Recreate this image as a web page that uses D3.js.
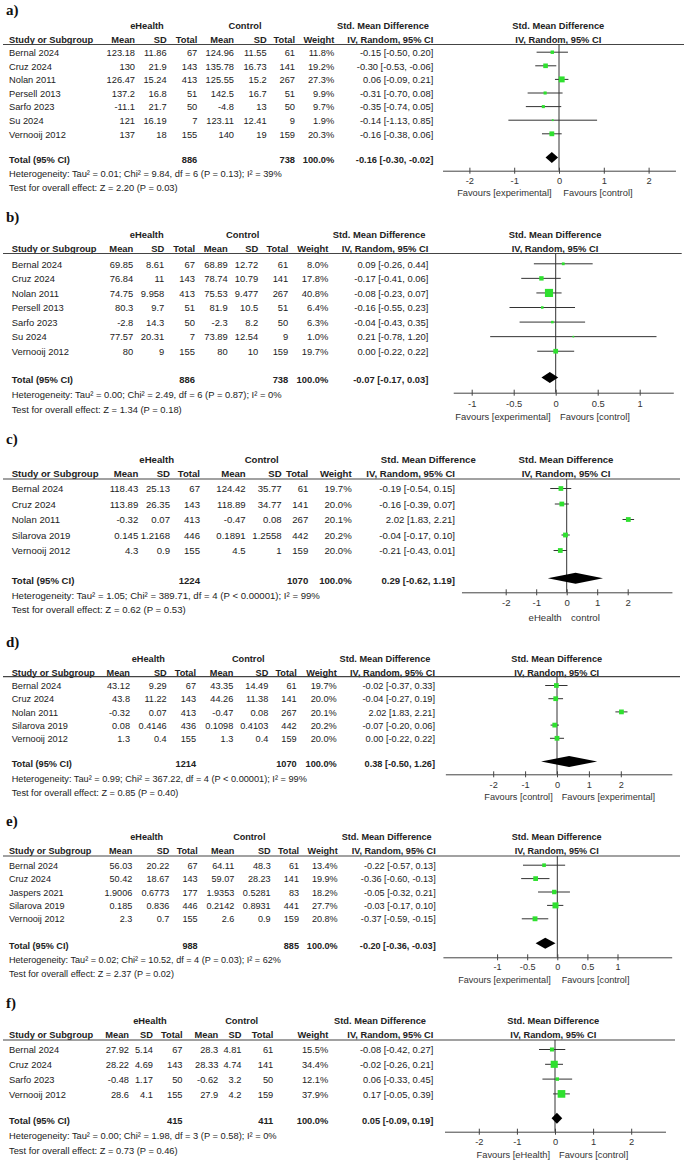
<!DOCTYPE html>
<html>
<head>
<meta charset="utf-8">
<script src="https://cdn.jsdelivr.net/npm/d3@7"></script>
<style>
body{margin:0;background:#fff;}
svg{display:block;font-family:"Liberation Sans",Arial,sans-serif;}
</style>
</head>
<body>
<div id="chart"></div>
<script>

// ---- a) ----
var studiesA = ["Bernal 2024", "Cruz 2024", "Nolan 2011", "Persell 2013", "Sarfo 2023", "Su 2024", "Vernooij 2012"];
var eHealthA = [[123.18, 11.86, 67], [130, 21.9, 143], [126.47, 15.24, 413], [137.2, 16.8, 51], [-11.1, 21.7, 50], [121, 16.19, 7], [137, 18, 155]];
var controlA = [[124.96, 11.55, 61], [135.78, 16.73, 141], [125.55, 15.2, 267], [142.5, 16.7, 51], [-4.8, 13, 50], [123.11, 12.41, 9], [140, 19, 159]];
var weightA = [11.8, 19.2, 27.3, 9.9, 9.7, 1.9, 20.3];
var smdA = [-0.15, -0.30, 0.06, -0.31, -0.35, -0.14, -0.16];
var ciA = [[-0.50, 0.20], [-0.53, -0.06], [-0.09, 0.21], [-0.70, 0.08], [-0.74, 0.05], [-1.13, 0.85], [-0.38, 0.06]];
var totalA = [886, 738, -0.16, -0.30, -0.02];
var hetA = "Heterogeneity: Tau² = 0.01; Chi² = 9.84, df = 6 (P = 0.13); I² = 39%";
var testA = "Test for overall effect: Z = 2.20 (P = 0.03)";
var ticksA = [-2, -1, 0, 1, 2];
var favA = ["Favours [experimental]", "Favours [control]"];

// ---- b) ----
var studiesB = ["Bernal 2024", "Cruz 2024", "Nolan 2011", "Persell 2013", "Sarfo 2023", "Su 2024", "Vernooij 2012"];
var eHealthB = [[69.85, 8.61, 67], [76.84, 11, 143], [74.75, 9.958, 413], [80.3, 9.7, 51], [-2.8, 14.3, 50], [77.57, 20.31, 7], [80, 9, 155]];
var controlB = [[68.89, 12.72, 61], [78.74, 10.79, 141], [75.53, 9.477, 267], [81.9, 10.5, 51], [-2.3, 8.2, 50], [73.89, 12.54, 9], [80, 10, 159]];
var weightB = [8.0, 17.8, 40.8, 6.4, 6.3, 1.0, 19.7];
var smdB = [0.09, -0.17, -0.08, -0.16, -0.04, 0.21, 0.00];
var ciB = [[-0.26, 0.44], [-0.41, 0.06], [-0.23, 0.07], [-0.55, 0.23], [-0.43, 0.35], [-0.78, 1.20], [-0.22, 0.22]];
var totalB = [886, 738, -0.07, -0.17, 0.03];
var hetB = "Heterogeneity: Tau² = 0.00; Chi² = 2.49, df = 6 (P = 0.87); I² = 0%";
var testB = "Test for overall effect: Z = 1.34 (P = 0.18)";
var ticksB = [-1, -0.5, 0, 0.5, 1];
var favB = ["Favours [experimental]", "Favours [control]"];

// ---- c) ----
var studiesC = ["Bernal 2024", "Cruz 2024", "Nolan 2011", "Silarova 2019", "Vernooij 2012"];
var eHealthC = [[118.43, 25.13, 67], [113.89, 26.35, 143], [-0.32, 0.07, 413], [0.145, 1.2168, 446], [4.3, 0.9, 155]];
var controlC = [[124.42, 35.77, 61], [118.89, 34.77, 141], [-0.47, 0.08, 267], [0.1891, 1.2558, 442], [4.5, 1, 159]];
var weightC = [19.7, 20.0, 20.1, 20.2, 20.0];
var smdC = [-0.19, -0.16, 2.02, -0.04, -0.21];
var ciC = [[-0.54, 0.15], [-0.39, 0.07], [1.83, 2.21], [-0.17, 0.10], [-0.43, 0.01]];
var totalC = [1224, 1070, 0.29, -0.62, 1.19];
var hetC = "Heterogeneity: Tau² = 1.05; Chi² = 389.71, df = 4 (P < 0.00001); I² = 99%";
var testC = "Test for overall effect: Z = 0.62 (P = 0.53)";
var ticksC = [-2, -1, 0, 1, 2];
var favC = ["eHealth", "control"];

// ---- d) ----
var studiesD = ["Bernal 2024", "Cruz 2024", "Nolan 2011", "Silarova 2019", "Vernooij 2012"];
var eHealthD = [[43.12, 9.29, 67], [43.8, 11.22, 143], [-0.32, 0.07, 413], [0.08, 0.4146, 436], [1.3, 0.4, 155]];
var controlD = [[43.35, 14.49, 61], [44.26, 11.38, 141], [-0.47, 0.08, 267], [0.1098, 0.4103, 442], [1.3, 0.4, 159]];
var weightD = [19.7, 20.0, 20.1, 20.2, 20.0];
var smdD = [-0.02, -0.04, 2.02, -0.07, 0.00];
var ciD = [[-0.37, 0.33], [-0.27, 0.19], [1.83, 2.21], [-0.20, 0.06], [-0.22, 0.22]];
var totalD = [1214, 1070, 0.38, -0.50, 1.26];
var hetD = "Heterogeneity: Tau² = 0.99; Chi² = 367.22, df = 4 (P < 0.00001); I² = 99%";
var testD = "Test for overall effect: Z = 0.85 (P = 0.40)";
var ticksD = [-2, -1, 0, 1, 2];
var favD = ["Favours [control]", "Favours [experimental]"];

// ---- e) ----
var studiesE = ["Bernal 2024", "Cruz 2024", "Jaspers 2021", "Silarova 2019", "Vernooij 2012"];
var eHealthE = [[56.03, 20.22, 67], [50.42, 18.67, 143], [1.9006, 0.6773, 177], [0.185, 0.836, 446], [2.3, 0.7, 155]];
var controlE = [[64.11, 48.3, 61], [59.07, 28.23, 141], [1.9353, 0.5281, 83], [0.2142, 0.8931, 441], [2.6, 0.9, 159]];
var weightE = [13.4, 19.9, 18.2, 27.7, 20.8];
var smdE = [-0.22, -0.36, -0.05, -0.03, -0.37];
var ciE = [[-0.57, 0.13], [-0.60, -0.13], [-0.32, 0.21], [-0.17, 0.10], [-0.59, -0.15]];
var totalE = [988, 885, -0.20, -0.36, -0.03];
var hetE = "Heterogeneity: Tau² = 0.02; Chi² = 10.52, df = 4 (P = 0.03); I² = 62%";
var testE = "Test for overall effect: Z = 2.37 (P = 0.02)";
var ticksE = [-1, -0.5, 0, 0.5, 1];
var favE = ["Favours [experimental]", "Favours [control]"];

// ---- f) ----
var studiesF = ["Bernal 2024", "Cruz 2024", "Sarfo 2023", "Vernooij 2012"];
var eHealthF = [[27.92, 5.14, 67], [28.22, 4.69, 143], [-0.48, 1.17, 50], [28.6, 4.1, 155]];
var controlF = [[28.3, 4.81, 61], [28.33, 4.74, 141], [-0.62, 3.2, 50], [27.9, 4.2, 159]];
var weightF = [15.5, 34.4, 12.1, 37.9];
var smdF = [-0.08, -0.02, 0.06, 0.17];
var ciF = [[-0.42, 0.27], [-0.26, 0.21], [-0.33, 0.45], [-0.05, 0.39]];
var totalF = [415, 411, 0.05, -0.09, 0.19];
var hetF = "Heterogeneity: Tau² = 0.00; Chi² = 1.98, df = 3 (P = 0.58); I² = 0%";
var testF = "Test for overall effect: Z = 0.73 (P = 0.46)";
var ticksF = [-2, -1, 0, 1, 2];
var favF = ["Favours [eHealth]", "Favours [control]"];

var panels = [
	{label: "a)", studies: studiesA, e: eHealthA, c: controlA, w: weightA, smd: smdA, ci: ciA, total: totalA, het: hetA, test: testA, ticks: ticksA, fav: favA},
	{label: "b)", studies: studiesB, e: eHealthB, c: controlB, w: weightB, smd: smdB, ci: ciB, total: totalB, het: hetB, test: testB, ticks: ticksB, fav: favB},
	{label: "c)", studies: studiesC, e: eHealthC, c: controlC, w: weightC, smd: smdC, ci: ciC, total: totalC, het: hetC, test: testC, ticks: ticksC, fav: favC},
	{label: "d)", studies: studiesD, e: eHealthD, c: controlD, w: weightD, smd: smdD, ci: ciD, total: totalD, het: hetD, test: testD, ticks: ticksD, fav: favD},
	{label: "e)", studies: studiesE, e: eHealthE, c: controlE, w: weightE, smd: smdE, ci: ciE, total: totalE, het: hetE, test: testE, ticks: ticksE, fav: favE},
	{label: "f)", studies: studiesF, e: eHealthF, c: controlF, w: weightF, smd: smdF, ci: ciF, total: totalF, het: hetF, test: testF, ticks: ticksF, fav: favF}
];

// layout of each panel (pixel positions)
var layouts = [
	{font: 9.3, labelY: 9.5, grpY: 26, colY: 40, lineY: 44.5, row0: 52.7, step: 13.6, totalY: 160, hetY: 173.7, testY: 187.5,
	 nameX: 9, cols: [135, 166.7, 197.3, 234, 266.7, 295, 334.3, 433.3], grp: [147, 245, 383],
	 x0: 559, ppu: 44.8, range: [-2.6, 2.6], headX: 558.3, axisY: 170.7, tickY: 181, favY: 192.7, lineEnd: 684, favL: 551.7, favR: 563.3},
	{font: 9.4, labelY: 216.7, grpY: 234.3, colY: 249, lineY: 253.5, row0: 264.3, step: 14.57, totalY: 380, hetY: 395, testY: 409.3,
	 nameX: 11.7, cols: [133.3, 164.3, 195, 227.7, 258.3, 288.3, 328.3, 428.3], grp: [146.7, 242.7, 379],
	 x0: 555.7, ppu: 84, range: [-1.22, 1.4], headX: 555, axisY: 392.7, tickY: 403.3, favY: 416.7, lineEnd: 681.7, favL: 550.7, favR: 560},
	{font: 9.6, labelY: 438.3, grpY: 459.3, colY: 474, lineY: 479, row0: 489, step: 15.5, totalY: 580.7, hetY: 595.3, testY: 610,
	 nameX: 11.7, cols: [138.3, 170, 200, 245.7, 281.7, 308.3, 351.7, 455], grp: [156.7, 261.7, 428.3],
	 x0: 566.7, ppu: 30.5, range: [-3.45, 3.45], headX: 566, axisY: 592.3, tickY: 602.3, favY: 617.3, lineEnd: 680, favL: 561.7, favR: 571},
	{font: 9.2, labelY: 641.7, grpY: 659, colY: 672.3, lineY: 676.7, row0: 686, step: 13.2, totalY: 764, hetY: 778.3, testY: 792.7,
	 nameX: 11.7, cols: [130, 166.7, 196, 233.3, 268.3, 296.7, 336.7, 435], grp: [148.3, 248.3, 385],
	 x0: 557, ppu: 31.9, range: [-3.5, 3.6], headX: 556.7, axisY: 774.3, tickY: 784.3, favY: 796.7, lineEnd: 680, favL: 552.7, favR: 561.7},
	{font: 9.1, labelY: 821, grpY: 837.3, colY: 850.7, lineY: 856, row0: 865.7, step: 13.4, totalY: 945.7, hetY: 960, testY: 974,
	 nameX: 9, cols: [132.3, 169.3, 197.7, 234.3, 270.7, 299, 337.7, 435.7], grp: [146.7, 249.3, 386.7],
	 x0: 557.3, ppu: 60.2, range: [-1.9, 1.9], headX: 556.7, axisY: 957.3, tickY: 966.7, favY: 980, lineEnd: 680, favL: 550.7, favR: 561.7},
	{font: 9.3, labelY: 1002.3, grpY: 1020.7, colY: 1035, lineY: 1040, row0: 1050, step: 14.8, totalY: 1120.7, hetY: 1135.7, testY: 1150.7,
	 nameX: 9, cols: [129, 153, 182.5, 218.3, 241.5, 273.3, 328.3, 433.3], grp: [150, 241.7, 380],
	 x0: 555, ppu: 38.1, range: [-2.9, 2.9], headX: 553.3, axisY: 1131.7, tickY: 1141.7, favY: 1154.3, lineEnd: 675, favL: 550, favR: 559}
];

var textColor = "#222";
var boxColor = "#2fe02f";

function ci(v, lo, hi){
	return v.toFixed(2) + " [" + lo.toFixed(2) + ", " + hi.toFixed(2) + "]";
}

function addText(g, x, y, str, anchor, bold, size){
	return g.append("text")
		.attr("x", x)
		.attr("y", y)
		.attr("dy", "0.35em")
		.attr("text-anchor", anchor)
		.attr("font-size", size)
		.attr("font-weight", bold ? "bold" : "normal")
		.attr("fill", textColor)
		.text(str);
}

function drawPanel(svg, p, L){
	var g = svg.append("g");
	var fs = L.font;

	// panel letter
	g.append("text")
		.attr("x", 6)
		.attr("y", L.labelY)
		.attr("dy", "0.35em")
		.attr("font-family", "'Liberation Serif', 'Times New Roman', serif")
		.attr("font-weight", "bold")
		.attr("font-size", 15)
		.attr("fill", "#111")
		.text(p.label);

	// group headers
	addText(g, L.grp[0], L.grpY, "eHealth", "middle", true, fs);
	addText(g, L.grp[1], L.grpY, "Control", "middle", true, fs);
	addText(g, L.grp[2], L.grpY, "Std. Mean Difference", "middle", true, fs);
	addText(g, L.headX, L.grpY, "Std. Mean Difference", "middle", true, fs);

	// column headers
	addText(g, L.nameX, L.colY, "Study or Subgroup", "start", true, fs);
	var heads = ["Mean", "SD", "Total", "Mean", "SD", "Total", "Weight", "IV, Random, 95% CI"];
	heads.forEach(function(h, i){
		addText(g, L.cols[i], L.colY, h, "end", true, fs);
	});
	addText(g, L.headX, L.colY, "IV, Random, 95% CI", "middle", true, fs);

	g.append("line")
		.attr("x1", 3).attr("x2", L.lineEnd)
		.attr("y1", L.lineY).attr("y2", L.lineY)
		.attr("stroke", "#444")
		.attr("stroke-width", 1.2);

	var yRow = function(i){ return L.row0 + i * L.step; };

	// study rows
	p.studies.forEach(function(s, i){
		var y = yRow(i);
		addText(g, L.nameX, y, s, "start", false, fs);
		var vals = p.e[i].concat(p.c[i]);
		vals.forEach(function(v, j){
			addText(g, L.cols[j], y, String(v), "end", false, fs);
		});
		addText(g, L.cols[6], y, p.w[i].toFixed(1) + "%", "end", false, fs);
		addText(g, L.cols[7], y, ci(p.smd[i], p.ci[i][0], p.ci[i][1]), "end", false, fs);
	});

	// total row
	addText(g, L.nameX, L.totalY, "Total (95% CI)", "start", true, fs);
	addText(g, L.cols[2], L.totalY, p.total[0], "end", true, fs);
	addText(g, L.cols[5], L.totalY, p.total[1], "end", true, fs);
	addText(g, L.cols[6], L.totalY, "100.0%", "end", true, fs);
	addText(g, L.cols[7], L.totalY, ci(p.total[2], p.total[3], p.total[4]), "end", true, fs);

	addText(g, L.nameX, L.hetY, p.het, "start", false, fs);
	addText(g, L.nameX, L.testY, p.test, "start", false, fs);

	// forest plot
	var xScale = d3.scaleLinear()
		.domain(L.range)
		.range([L.x0 + L.range[0] * L.ppu, L.x0 + L.range[1] * L.ppu]);

	var sizeScale = d3.scaleLinear().domain([0, 40]).range([1.5, 8]);

	// line of no effect
	g.append("line")
		.attr("x1", xScale(0)).attr("x2", xScale(0))
		.attr("y1", L.lineY).attr("y2", L.axisY)
		.attr("stroke", "#333")
		.attr("stroke-width", 1);

	var rows = p.studies.map(function(s, i){ return i; });

	g.selectAll(".ciline")
		.data(rows)
		.enter()
		.append("line")
		.attr("x1", function(i){ return xScale(p.ci[i][0]); })
		.attr("x2", function(i){ return xScale(p.ci[i][1]); })
		.attr("y1", function(i){ return yRow(i) - 0.5; })
		.attr("y2", function(i){ return yRow(i) - 0.5; })
		.attr("stroke", "#333")
		.attr("stroke-width", 1);

	g.selectAll(".box")
		.data(rows)
		.enter()
		.append("rect")
		.attr("x", function(i){ return xScale(p.smd[i]) - sizeScale(p.w[i]) / 2; })
		.attr("y", function(i){ return yRow(i) - 0.5 - sizeScale(p.w[i]) / 2; })
		.attr("width", function(i){ return sizeScale(p.w[i]); })
		.attr("height", function(i){ return sizeScale(p.w[i]); })
		.attr("fill", boxColor);

	// pooled diamond
	var dy = L.totalY - 2.5;
	var hh = 5.5;
	g.append("path")
		.attr("d", "M" + xScale(p.total[3]) + "," + dy +
			"L" + xScale(p.total[2]) + "," + (dy - hh) +
			"L" + xScale(p.total[4]) + "," + dy +
			"L" + xScale(p.total[2]) + "," + (dy + hh) + "Z")
		.attr("fill", "#000");

	// axis
	var axis = d3.axisBottom(xScale)
		.tickValues(p.ticks)
		.tickFormat(function(d){ return String(d); })
		.tickSizeOuter(0)
		.tickSizeInner(3);

	var ax = g.append("g")
		.attr("transform", "translate(0," + L.axisY + ")")
		.call(axis);

	ax.select(".domain").attr("stroke", "#444");
	ax.selectAll(".tick line").attr("y1", -3).attr("stroke", "#444");
	ax.selectAll(".tick text")
		.attr("y", L.tickY - L.axisY)
		.attr("dy", "0.35em")
		.attr("font-size", fs)
		.attr("font-family", "'Liberation Sans', Arial, sans-serif")
		.attr("fill", "#333");

	addText(g, L.favL, L.favY, p.fav[0], "end", false, fs).attr("fill", "#333");
	addText(g, L.favR, L.favY, p.fav[1], "start", false, fs).attr("fill", "#333");
}

function init(){
	var w = 685;
	var h = 1162;

	var svg = d3.select("#chart")
		.append("svg")
		.attr("width", w)
		.attr("height", h);

	svg.append("rect")
		.attr("width", w)
		.attr("height", h)
		.attr("fill", "#fff");

	panels.forEach(function(p, i){
		drawPanel(svg, p, layouts[i]);
	});
}

window.onload = init;
</script>
</body>
</html>
